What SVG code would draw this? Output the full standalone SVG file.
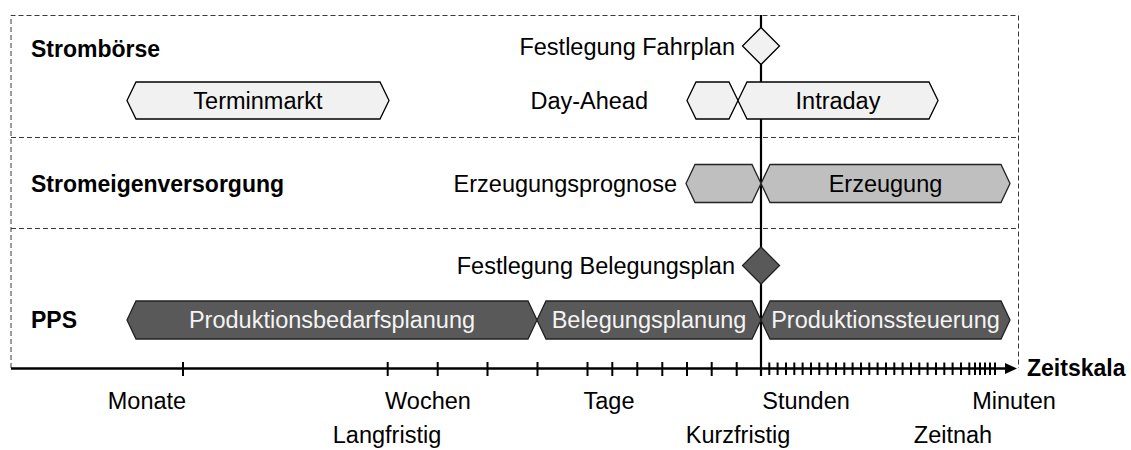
<svg xmlns="http://www.w3.org/2000/svg" width="1131" height="450" viewBox="0 0 1131 450">
  <style>
    text { font-family: "Liberation Sans", Arial, sans-serif; font-size: 23.5px; fill: #000; }
    .lane { font-weight: bold; font-size: 23px; }
    .dash { fill: none; stroke: #3a3a3a; stroke-width: 1; stroke-dasharray: 5 3; }
    .light { fill: #f1f1f1; stroke: #000; stroke-width: 1.3; }
    .mid { fill: #bfbfbf; stroke: #222; stroke-width: 1.3; }
    .dark { fill: #595959; stroke: #222; stroke-width: 1.3; }
    .inv { fill: #f4f4f4; }
    .tick { stroke: #000; stroke-width: 2; }
    .mid-anchor { text-anchor: middle; }
    .end-anchor { text-anchor: end; }
  </style>
  <defs>
    <marker id="arrow" viewBox="0 0 12 12" refX="0" refY="6" markerWidth="12" markerHeight="12" markerUnits="userSpaceOnUse" orient="auto">
      <path d="M0,0.5 L12,6 L0,11.5 Z" fill="#000"/>
    </marker>
  </defs>

  <!-- lane frame and separators -->
  <g id="lanes">
    <path class="dash" d="M11,368 V15.5 H1018.5 V368"/>
    <line class="dash" x1="11" y1="137.5" x2="1018.5" y2="137.5"/>
    <line class="dash" x1="11" y1="228.5" x2="1018.5" y2="228.5"/>
    <text class="lane" x="31" y="57">Strombörse</text>
    <text class="lane" x="31" y="192">Stromeigenversorgung</text>
    <text class="lane" x="31" y="328">PPS</text>
  </g>

  <g id="connectors">
    <!-- "now" marker line -->
    <line x1="761" y1="15" x2="761" y2="376" stroke="#000" stroke-width="2.2"/>
    <!-- time axis -->
    <line x1="11" y1="368.5" x2="1005" y2="368.5" stroke="#000" stroke-width="2.6" marker-end="url(#arrow)"/>
  </g>

  <!-- Strombörse lane -->
  <g id="fahrplan">
    <polygon class="light" points="761,27.5 779.5,46 761,64.5 742.5,46"/>
    <text class="end-anchor" x="735" y="54.5">Festlegung Fahrplan</text>
  </g>
  <g id="terminmarkt">
    <polygon class="light" points="127,100.5 136,82 380,82 389,100.5 380,119 136,119"/>
    <text class="mid-anchor" x="258" y="108.5">Terminmarkt</text>
  </g>
  <g id="day-ahead">
    <polygon class="light" points="687,100.5 696,82 729,82 738,100.5 729,119 696,119"/>
    <text class="end-anchor" x="648" y="108.5">Day-Ahead</text>
  </g>
  <g id="intraday">
    <polygon class="light" points="738,100.5 747,82 929,82 938,100.5 929,119 747,119"/>
    <text class="mid-anchor" x="838" y="108.5">Intraday</text>
  </g>

  <!-- Stromeigenversorgung lane -->
  <g id="erzeugungsprognose">
    <polygon class="mid" points="686,183.5 695,164.5 752,164.5 761,183.5 752,202.5 695,202.5"/>
    <text class="end-anchor" x="677" y="191.5">Erzeugungsprognose</text>
  </g>
  <g id="erzeugung">
    <polygon class="mid" points="761,183.5 770,164.5 1001,164.5 1010,183.5 1001,202.5 770,202.5"/>
    <text class="mid-anchor" x="885.5" y="191.5">Erzeugung</text>
  </g>

  <!-- PPS lane -->
  <g id="belegungsplan">
    <polygon class="dark" points="761,247 779.5,265.5 761,284 742.5,265.5"/>
    <text class="end-anchor" x="735" y="274">Festlegung Belegungsplan</text>
  </g>
  <g id="produktionsbedarfsplanung">
    <polygon class="dark" points="127,320 136,301 528,301 537,320 528,339 136,339"/>
    <text class="mid-anchor inv" x="332" y="328">Produktionsbedarfsplanung</text>
  </g>
  <g id="belegungsplanung">
    <polygon class="dark" points="537,320 546,301 752,301 761,320 752,339 546,339"/>
    <text class="mid-anchor inv" x="649" y="328">Belegungsplanung</text>
  </g>
  <g id="produktionssteuerung">
    <polygon class="dark" points="761,320 770,301 1001,301 1010,320 1001,339 770,339"/>
    <text class="mid-anchor inv" x="885.5" y="328">Produktionssteuerung</text>
  </g>

  <!-- axis ticks -->
  <g id="ticks">
    <path class="tick" d="M183,362V376 M387.7,362V376 M437.7,362V376 M487.5,362V376 M537.5,362V376 M587.5,362V376 M612.3,362V376 M637.3,362V376 M662.3,362V376 M687,362V376 M711.7,362V376 M736.7,362V376"/>
    <path class="tick" stroke-width="1.6" d="M769.3,362.5V375 M777.6,362.5V375 M786,362.5V375 M794.3,362.5V375 M802.6,362.5V375 M811,362.5V375 M819.3,362.5V375 M827.6,362.5V375 M836,362.5V375 M844.3,362.5V375 M852.6,362.5V375 M861,362.5V375 M869.3,362.5V375 M877.6,362.5V375 M886,362.5V375 M894.3,362.5V375 M902.6,362.5V375 M911,362.5V375 M919.3,362.5V375 M927.6,362.5V375 M936,362.5V375 M944.3,362.5V375 M952.6,362.5V375 M961,362.5V375 M969.3,362.5V375 M975,362.5V375 M980,362.5V375 M985,362.5V375 M990,362.5V375 M995,362.5V375"/>
  </g>

  <!-- axis labels -->
  <g id="axis-labels">
    <text class="lane" x="1027" y="376">Zeitskala</text>
    <text class="mid-anchor" x="147" y="409">Monate</text>
    <text class="mid-anchor" x="428" y="409">Wochen</text>
    <text class="mid-anchor" x="609" y="409">Tage</text>
    <text class="mid-anchor" x="806" y="409">Stunden</text>
    <text class="mid-anchor" x="1014" y="409">Minuten</text>
    <text class="mid-anchor" x="387" y="443">Langfristig</text>
    <text class="mid-anchor" x="738" y="443">Kurzfristig</text>
    <text class="mid-anchor" x="953" y="443">Zeitnah</text>
  </g>
</svg>
